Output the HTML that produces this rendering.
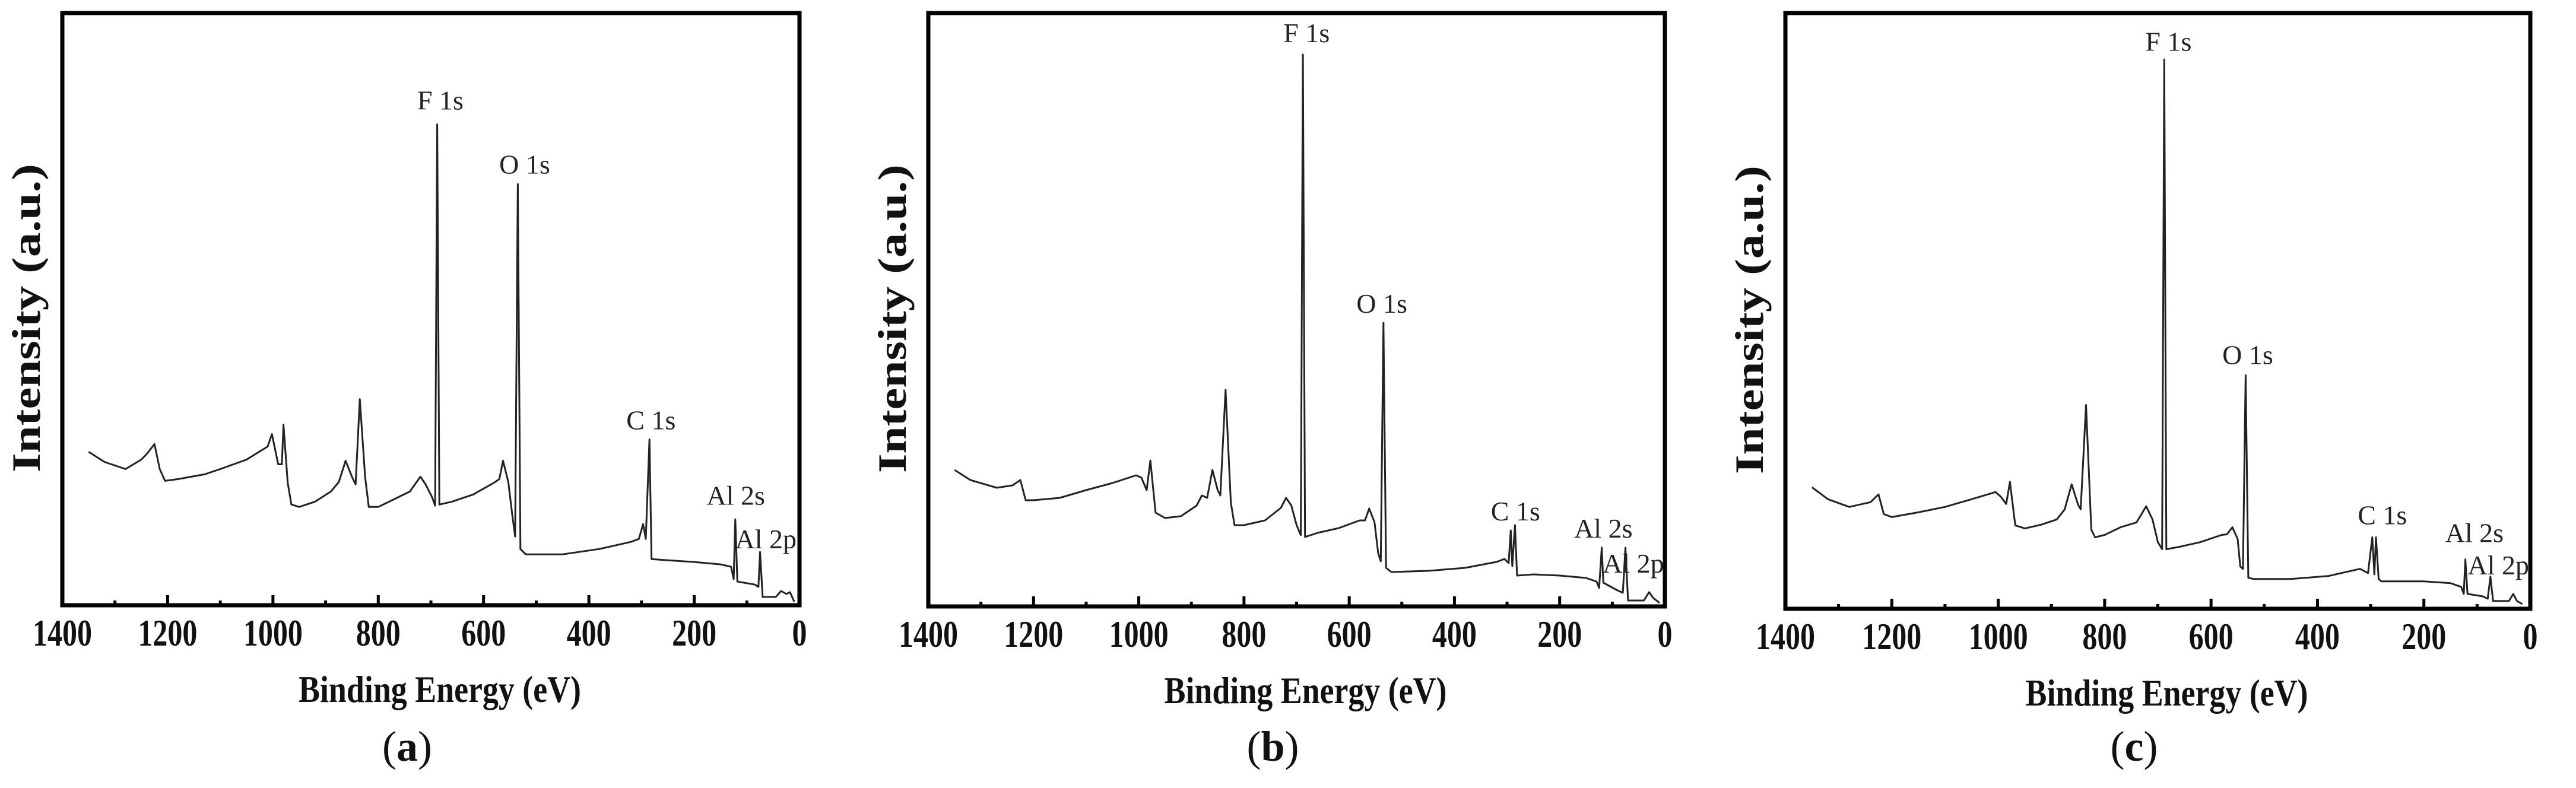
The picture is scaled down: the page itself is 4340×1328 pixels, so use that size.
<!DOCTYPE html>
<html><head><meta charset="utf-8"><style>
html,body{margin:0;padding:0;background:#fff;}
svg{display:block;}
text{font-family:"Liberation Serif",serif;}
</style></head><body>
<svg id="fig" width="4340" height="1328" viewBox="0 0 4340 1328" xmlns="http://www.w3.org/2000/svg"></svg>
<script>
// Panel a data: binding energy (eV) and relative intensity (% of frame height)
const energyA = [1350,1320,1280,1250,1240,1225,1215,1205,1180,1130,1100,1050,1010,1002,990,983,980,972,965,950,920,890,875,862,850,843,835,825,818,800,770,740,720,710,698,692,688,684,660,620,580,570,563,553,545,540,535,530,520,450,380,320,305,297,292,285,281,250,200,150,130,125,122,118,85,78,75,70,45,35,25,18,10];
const intensityA = [25.9,24.2,23.0,24.6,25.5,27.2,23.0,21.0,21.3,22.1,23.0,24.6,26.8,28.9,23.8,23.8,30.5,20.7,17.0,16.6,17.5,19.2,20.8,24.4,21.7,20.4,34.8,21.7,16.6,16.6,17.9,19.2,21.7,20.4,18.3,16.8,81.2,17.0,17.5,18.7,20.7,21.3,24.4,20.8,14.9,11.6,71.1,9.5,8.6,8.6,9.5,10.7,11.2,13.7,11.2,28.0,7.8,7.6,7.3,6.9,6.5,4.4,14.5,4.0,3.5,3.1,9.0,1.4,1.4,2.4,1.9,2.2,0.6];
// Panel b data
const energyB = [1350,1320,1270,1240,1225,1215,1200,1150,1100,1050,1005,995,985,978,968,950,920,890,880,870,860,850,845,835,825,818,800,760,730,720,710,700,692,688,684,660,620,580,570,562,552,545,540,535,530,520,450,380,320,305,297,293,290,285,281,250,200,150,130,125,120,117,90,80,75,70,40,30,22,10];
const intensityB = [23.0,21.3,20.0,20.4,21.3,17.9,17.9,18.3,19.6,20.8,22.1,21.7,19.6,24.6,15.8,14.9,15.2,17.0,18.7,18.3,23.0,19.6,18.7,36.5,17.5,13.7,13.7,14.5,16.6,18.3,17.0,13.7,12.0,93.0,11.7,12.4,13.2,14.5,14.5,16.5,14.2,9.0,7.6,47.8,6.5,5.8,6.0,6.5,7.5,8.0,7.3,12.8,6.8,13.7,5.2,5.4,5.2,4.8,4.2,3.1,9.9,4.0,2.7,2.3,9.9,1.0,1.0,2.4,1.4,0.6];
// Panel c data
const energyC = [1350,1320,1280,1240,1225,1215,1200,1150,1100,1050,1005,995,985,978,968,950,920,890,875,862,850,845,835,825,818,800,770,740,722,710,700,692,688,684,660,620,580,570,560,550,545,540,535,530,520,450,380,320,305,297,293,290,285,280,200,150,130,125,122,118,90,80,75,70,40,32,25,15];
const intensityC = [20.4,18.4,17.1,17.9,19.2,15.9,15.4,16.2,17.1,18.4,19.6,18.8,17.6,21.3,14.0,13.5,14.1,15.0,16.7,20.9,17.5,16.7,34.2,13.3,12.0,12.4,13.7,14.5,17.2,15.0,11.2,10.0,92.2,10.0,10.4,11.2,12.4,12.5,13.7,11.7,7.1,6.7,39.2,5.2,5.0,5.0,5.5,6.7,6.0,12.0,5.8,12.0,5.0,4.6,4.6,4.3,3.7,2.5,8.3,2.5,2.1,1.7,5.4,1.3,1.3,2.5,1.3,0.8];
// Peak labels
const peakNames = ["F 1s","O 1s","C 1s","Al 2s","Al 2p"];
const labelEnergyA = [682,522,282,121,64];
const labelIntA = [83.7,72.9,29.7,17.0,9.6];
const labelEnergyB = [681,538,284,117,60];
const labelIntB = [95.1,49.5,14.5,11.6,5.7];
const labelEnergyC = [680,531,278,105,60];
const labelIntC = [93.7,41.1,14.2,11.2,5.8];
const tickValues = [1400,1200,1000,800,600,400,200,0];
const minorTickValues = [1300,1100,900,700,500,300,100];
const panelTags = ["a","b","c"];

const NS = "http://www.w3.org/2000/svg";
const svg = document.getElementById("fig");
function mk(tag, attrs, parent){
  const e = document.createElementNS(NS, tag);
  for (const k in attrs) e.setAttribute(k, attrs[k]);
  (parent||svg).appendChild(e);
  return e;
}
const panels = [
  {L:105, R:1347, T:22, B:1020, E:energyA, I:intensityA, LE:labelEnergyA, LI:labelIntA},
  {L:1564, R:2805, T:22, B:1022, E:energyB, I:intensityB, LE:labelEnergyB, LI:labelIntB},
  {L:3008, R:4263, T:22, B:1026, E:energyC, I:intensityC, LE:labelEnergyC, LI:labelIntC}
];
panels.forEach((p, idx) => {
  const g = mk("g", {});
  
  
  const xs = v => p.R - (v / 1400) * (p.R - p.L);
  const ys = v => p.B - (v / 100) * (p.B - p.T);
  const pts = p.E.map((e, i) => xs(e).toFixed(1) + "," + ys(p.I[i]).toFixed(1)).join(" ");
  const line = mk("polyline", {points: pts, fill: "none", stroke: "#222", "stroke-width": 3, "stroke-linejoin": "round"}, g);
  
  
  tickValues.forEach(t => {
    const tk = mk("line", {x1: xs(t), x2: xs(t), y1: p.B, y2: p.B - 17, stroke: "#000", "stroke-width": 5}, g);
    
    
    const s = String(t);
    const tl = mk("text", {x: xs(t), y: p.B + 68, "text-anchor": "middle", "font-size": 64, "font-weight": "bold", fill: "#111", textLength: s.length * 25, lengthAdjust: "spacingAndGlyphs"}, g);
    tl.textContent = s;
    
    
  });
  minorTickValues.forEach(t => {
    const tk = mk("line", {x1: xs(t), x2: xs(t), y1: p.B, y2: p.B - 8, stroke: "#000", "stroke-width": 5}, g);
    
    
  });
  const fr = mk("rect", {x: p.L, y: p.T, width: p.R - p.L, height: p.B - p.T, fill: "none", stroke: "#000", "stroke-width": 7}, g);
  
  
  peakNames.forEach((n, i) => {
    const t = mk("text", {x: xs(p.LE[i]), y: ys(p.LI[i]), "text-anchor": "middle", "font-size": 46, fill: "#222"}, g);
    t.textContent = n;
    
    
  });
  const cx = (p.L + p.R) / 2;
  const xt = mk("text", {x: cx + 15, y: p.B + 163, "text-anchor": "middle", "font-size": 64, "font-weight": "bold", fill: "#111", textLength: 476, lengthAdjust: "spacingAndGlyphs"}, g);
  xt.textContent = "Binding Energy (eV)";
  
  
  const yx = p.L - 38, yy = (p.T + p.B) / 2 + 15;
  const yt = mk("text", {x: yx, y: yy, "text-anchor": "middle", "font-size": 68, "font-weight": "bold", fill: "#111", textLength: 520, lengthAdjust: "spacingAndGlyphs", transform: "rotate(-90 " + yx + " " + yy + ")"}, g);
  yt.textContent = "Intensity (a.u.)";
  
  
  const cap = mk("text", {x: cx - 40, y: 1282, "text-anchor": "middle", "font-size": 72, fill: "#111"}, g);
  
  
  const s1 = mk("tspan", {}, cap); s1.textContent = "(";
  const s2 = mk("tspan", {"font-weight": "bold"}, cap); s2.textContent = panelTags[idx];
  const s3 = mk("tspan", {}, cap); s3.textContent = ")";
});
</script>
</body></html>
